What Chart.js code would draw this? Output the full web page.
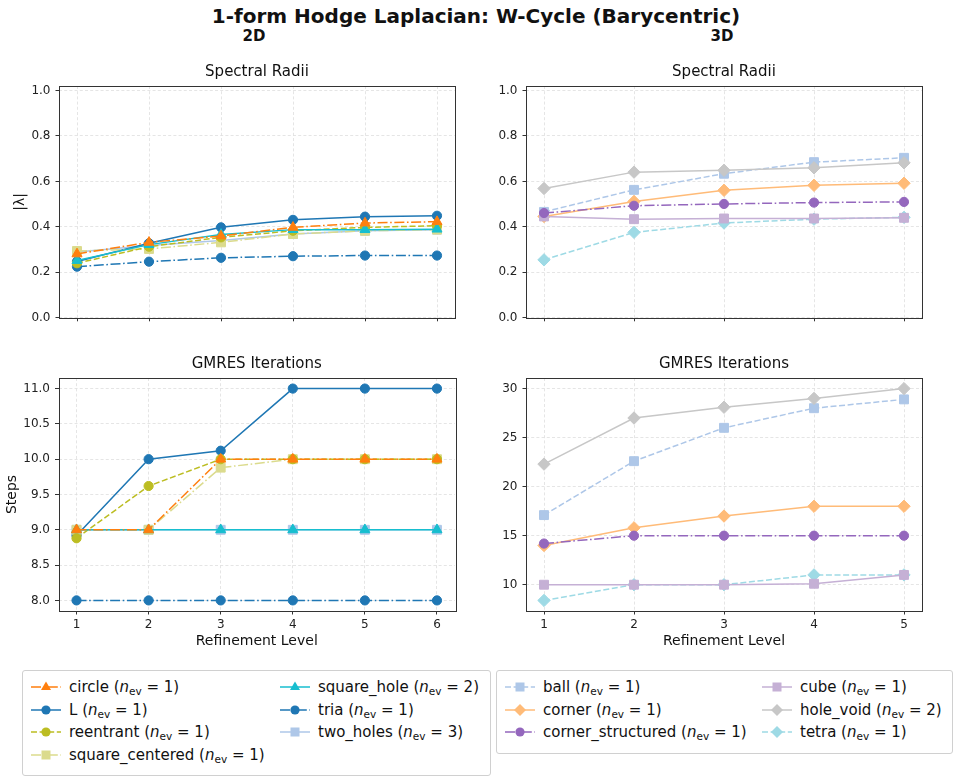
<!DOCTYPE html>
<html>
<head>
<meta charset="utf-8">
<script src="https://cdn.jsdelivr.net/npm/chart.js@4.4.1/dist/chart.umd.min.js"></script>
<style>
  body { margin: 0; background: #fff; font-family: "DejaVu Sans", sans-serif; color: #111; }
  #fig { position: relative; width: 959px; height: 782px; overflow: hidden; }
  .abs { position: absolute; }
  .sup { left: 0; width: 952px; top: 6px; text-align: center; font-weight: bold; font-size: 20px; line-height: 20px; }
  .col { top: 29px; width: 80px; text-align: center; font-weight: bold; font-size: 15px; line-height: 15px; }
  .box { border: 1px solid #d0d0d0; border-radius: 3px; background: #fff; }
  .entry { font-size: 15px; line-height: 20px; white-space: nowrap; }
  .entry svg { position: absolute; top: 2px; }
  .sub { font-size: 70%; position: relative; top: 0.3em; }
</style>
</head>
<body>
<div id="fig">
  <div class="abs sup">1-form Hodge Laplacian: W-Cycle (Barycentric)</div>
  <div class="abs col" style="left:214px">2D</div>
  <div class="abs col" style="left:682px">3D</div>

  <div class="abs" style="left:0;top:63px;width:470px;height:267px"><canvas id="rho2d"></canvas></div>
  <div class="abs" style="left:470px;top:63px;width:470px;height:267px"><canvas id="rho3d"></canvas></div>
  <div class="abs" style="left:0;top:355px;width:470px;height:300px"><canvas id="gm2d"></canvas></div>
  <div class="abs" style="left:470px;top:355px;width:470px;height:300px"><canvas id="gm3d"></canvas></div>

  <div class="abs box" id="leg2d" style="left:22px;top:670px;width:467px;height:104px"></div>
  <div class="abs box" id="leg3d" style="left:496px;top:670px;width:455px;height:82px"></div>
</div>

<script>
// refinement levels
const levels2D = [1, 2, 3, 4, 5, 6];
const levels3D = [1, 2, 3, 4, 5];

// 2D meshes
const names2D = ["circle", "L", "reentrant", "square_centered", "square_hole", "tria", "two_holes"];
const nev2D = [1, 1, 1, 1, 2, 1, 3];
const rho2D = [
  [0.281, 0.332, 0.360, 0.398, 0.417, 0.423], // circle
  [0.248, 0.328, 0.398, 0.431, 0.445, 0.449], // L
  [0.240, 0.313, 0.354, 0.383, 0.398, 0.405], // reentrant
  [0.294, 0.303, 0.332, 0.369, 0.383, 0.388], // square_centered
  [0.252, 0.322, 0.367, 0.388, 0.388, 0.390], // square_hole
  [0.225, 0.247, 0.264, 0.271, 0.274, 0.274], // tria
  [0.290, 0.318, 0.340, 0.369, 0.383, 0.388], // two_holes
];
const gm2D = [
  [9, 9, 10, 10, 10, 10],          // circle
  [8.92, 10, 10.12, 11, 11, 11],   // L
  [8.88, 9.62, 10, 10, 10, 10],    // reentrant
  [9, 9, 9.88, 10, 10, 10],        // square_centered
  [9, 9, 9, 9, 9, 9],              // square_hole
  [8, 8, 8, 8, 8, 8],              // tria
  [9, 9, 9, 9, 9, 9],              // two_holes
];

// 3D meshes
const names3D = ["ball", "corner", "corner_structured", "cube", "hole_void", "tetra"];
const nev3D = [1, 1, 1, 1, 2, 1];
const rho3D = [
  [0.466, 0.563, 0.634, 0.685, 0.704], // ball
  [0.446, 0.512, 0.561, 0.583, 0.592], // corner
  [0.461, 0.493, 0.501, 0.507, 0.510], // corner_structured
  [0.446, 0.434, 0.437, 0.437, 0.440], // cube
  [0.569, 0.641, 0.649, 0.660, 0.682], // hole_void
  [0.255, 0.376, 0.417, 0.434, 0.442], // tetra
];
const gm3D = [
  [17.1, 22.6, 26, 28, 28.9],  // ball
  [14, 15.8, 17, 18, 18],      // corner
  [14.2, 15, 15, 15, 15],      // corner_structured
  [10, 10, 10, 10.1, 11],      // cube
  [22.3, 27, 28.1, 29, 30],    // hole_void
  [8.4, 10, 10, 11, 11],       // tetra
];

// tick values
const rhoTicks = [0, 0.2, 0.4, 0.6, 0.8, 1.0];
const gm2DTicks = [8, 8.5, 9, 9.5, 10, 10.5, 11];
const gm3DTicks = [10, 15, 20, 25, 30];

// styles (layer: higher is drawn on top)
const DASH = [6, 2.6];
const DASHDOT = [10, 2.6, 1.6, 2.6];
const style2D = [
  { color: "#ff7f0e", dash: DASHDOT, marker: "triangle", layer: 6 },
  { color: "#1f77b4", dash: [], marker: "circle", layer: 2 },
  { color: "#bcbd22", dash: DASH, marker: "circle", layer: 4 },
  { color: "#dbdb8d", dash: DASHDOT, marker: "rect", layer: 3 },
  { color: "#17becf", dash: [], marker: "triangle", layer: 5 },
  { color: "#1f77b4", dash: DASHDOT, marker: "circle", layer: 1 },
  { color: "#aec7e8", dash: [], marker: "rect", layer: 0 },
];
const style3D = [
  { color: "#aec7e8", dash: DASH, marker: "rect", layer: 1 },
  { color: "#ffbb78", dash: [], marker: "rectRot", layer: 3 },
  { color: "#9467bd", dash: DASHDOT, marker: "circle", layer: 5 },
  { color: "#c5b0d5", dash: [], marker: "rect", layer: 4 },
  { color: "#c7c7c7", dash: [], marker: "rectRot", layer: 2 },
  { color: "#9edae5", dash: DASH, marker: "rectRot", layer: 0 },
];
const markerRadius = { circle: 4.6, triangle: 5.8, rect: 6.3, rectRot: 6.2 };

const FONT = "'DejaVu Sans', sans-serif";

const frame = {
  id: "frame",
  afterDatasetsDraw(chart) {
    const a = chart.chartArea, ctx = chart.ctx;
    ctx.save();
    ctx.strokeStyle = "#333";
    ctx.lineWidth = 1;
    ctx.setLineDash([]);
    ctx.strokeRect(Math.round(a.left) + 0.5, Math.round(a.top) + 0.5,
      Math.round(a.right - a.left), Math.round(a.bottom - a.top));
    ctx.restore();
  },
};

function makeChart(id, levels, names, values, styles, o) {
  const datasets = names.map((n, i) => ({
    label: n,
    data: values[i],
    borderColor: styles[i].color,
    backgroundColor: styles[i].color,
    borderWidth: 1.5,
    borderDash: styles[i].dash,
    pointStyle: styles[i].marker,
    pointRadius: markerRadius[styles[i].marker],
    pointBackgroundColor: styles[i].color,
    pointBorderColor: styles[i].color,
    pointBorderWidth: 1,
    tension: 0,
    fill: false,
    order: -styles[i].layer,
  }));
  const gridOpts = { color: "#dedede", lineWidth: 0.8, tickColor: "#333", tickLength: 3.5, tickWidth: 1 };
  new Chart(document.getElementById(id), {
    type: "line",
    data: { labels: levels, datasets },
    plugins: [frame],
    options: {
      responsive: true,
      maintainAspectRatio: false,
      animation: false,
      events: [],
      layout: { padding: { left: 0, top: 0, bottom: 0, right: o.padRight } },
      plugins: {
        legend: { display: false },
        tooltip: { enabled: false },
        title: {
          display: true, text: o.title, fullSize: false, color: "#111",
          font: { size: 15, family: FONT, weight: "normal" }, padding: { top: 0, bottom: 5 },
        },
      },
      scales: {
        x: {
          type: "linear", bounds: "data",
          min: levels[0] - 0.05 * (levels[levels.length - 1] - levels[0]),
          max: levels[levels.length - 1] + 0.05 * (levels[levels.length - 1] - levels[0]),
          afterBuildTicks: s => { s.ticks = levels.map(v => ({ value: v })); },
          afterFit: s => { s.height = o.xHeight; },
          grid: gridOpts,
          border: { display: false, dash: [3, 2.2] },
          ticks: {
            color: o.showX ? "#222" : "rgba(0,0,0,0)", font: { size: 12, family: FONT },
            padding: 3, maxRotation: 0, autoSkip: false, callback: v => String(v),
          },
          title: {
            display: o.showX, text: "Refinement Level", color: "#111",
            font: { size: 14, family: FONT }, padding: { top: 0, bottom: 5 },
          },
        },
        y: {
          type: "linear", bounds: "data", min: o.yMin, max: o.yMax,
          afterBuildTicks: s => { s.ticks = o.yTicks.map(v => ({ value: v })); },
          afterFit: s => { s.width = o.yWidth; },
          grid: gridOpts,
          border: { display: false, dash: [3, 2.2] },
          ticks: {
            color: "#222", font: { size: 12, family: FONT }, padding: 5, autoSkip: false,
            callback: o.yFmt,
          },
          title: {
            display: !!o.yTitle, text: o.yTitle || "", color: "#111",
            font: { size: 14, family: FONT }, padding: { top: o.yTitlePad || 0, bottom: 0 },
          },
        },
      },
    },
  });
}

const fmt1 = v => v.toFixed(1);

makeChart("rho2d", levels2D, names2D, rho2D, style2D, {
  title: "Spectral Radii", padRight: 15, yWidth: 59, xHeight: 10, showX: false,
  yMin: 0, yMax: 1.02, yTicks: rhoTicks, yFmt: fmt1, yTitle: "|λ|", yTitlePad: 11.5,
});
makeChart("rho3d", levels3D, names3D, rho3D, style3D, {
  title: "Spectral Radii", padRight: 18, yWidth: 56, xHeight: 10, showX: false,
  yMin: 0, yMax: 1.02, yTicks: rhoTicks, yFmt: fmt1,
});
makeChart("gm2d", levels2D, names2D, gm2D, style2D, {
  title: "GMRES Iterations", padRight: 15, yWidth: 58.5, xHeight: 44, showX: true,
  yMin: 7.85, yMax: 11.15, yTicks: gm2DTicks, yFmt: fmt1, yTitle: "Steps", yTitlePad: 4,
});
makeChart("gm3d", levels3D, names3D, gm3D, style3D, {
  title: "GMRES Iterations", padRight: 18, yWidth: 56, xHeight: 44, showX: true,
  yMin: 7.32, yMax: 31.08, yTicks: gm3DTicks, yFmt: v => String(v),
});

// legends
function handleSvg(st) {
  const c = st.color;
  const dash = st.dash.length ? ` stroke-dasharray="${st.dash.join(" ")}"` : "";
  let m = "";
  if (st.marker === "circle") m = `<circle cx="15" cy="8" r="4.6" fill="${c}"/>`;
  else if (st.marker === "triangle") m = `<polygon points="15,2.5 20,11 10,11" fill="${c}"/>`;
  else if (st.marker === "rect") m = `<rect x="10.5" y="3.5" width="9" height="9" fill="${c}"/>`;
  else m = `<polygon points="15,2 21,8 15,14 9,8" fill="${c}"/>`;
  return `<svg width="30" height="16"><line x1="0" y1="8" x2="30" y2="8" stroke="${c}" stroke-width="1.5"${dash}/>${m}</svg>`;
}

function buildLegend(id, names, nev, styles, rows, cols) {
  const box = document.getElementById(id);
  names.forEach((n, i) => {
    const c = Math.floor(i / rows), r = i % rows;
    const e = document.createElement("div");
    e.className = "abs entry";
    e.style.left = cols[c] + "px";
    e.style.top = (6 + r * 22.5) + "px";
    e.innerHTML = handleSvg(styles[i]) +
      `<span style="position:absolute;left:38px">${n} (<i>n</i><span class="sub">ev</span> = ${nev[i]})</span>`;
    box.appendChild(e);
  });
}
buildLegend("leg2d", names2D, nev2D, style2D, 4, [8, 257]);
buildLegend("leg3d", names3D, nev3D, style3D, 3, [8, 265]);
</script>
</body>
</html>
